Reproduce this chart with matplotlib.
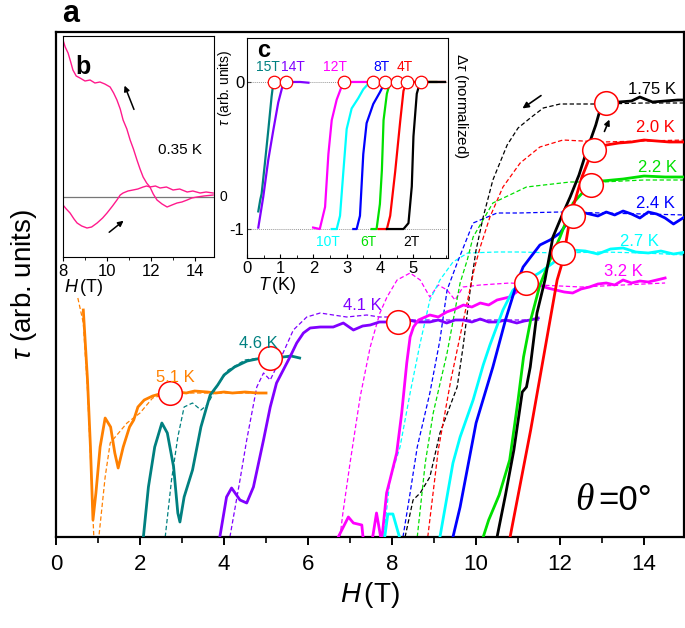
import matplotlib
matplotlib.use('Agg')
import matplotlib.pyplot as plt
from matplotlib.ticker import MultipleLocator

plt.rcParams['font.family'] = ['Liberation Sans', 'DejaVu Sans']
plt.rcParams['mathtext.fontset'] = 'custom'
plt.rcParams['mathtext.it'] = 'Liberation Sans:italic'
plt.rcParams['mathtext.rm'] = 'Liberation Sans'

# ---------------- main panel (a): torque vs field ----------------
temps = ['5.1 K', '4.6 K', '4.1 K', '3.2 K', '2.7 K', '2.4 K', '2.2 K', '1.75 K', '2.0 K']
colors = ['#ff8000', '#008080', '#8000ff', '#ff00ff', '#00ffff', '#0000ff', '#00e000', '#000000', '#ff0000']

H_up_51 = [0.65, 0.7, 0.75, 0.82, 0.88, 0.95, 1.05, 1.17, 1.3, 1.4, 1.48, 1.6, 1.75, 1.85, 1.95, 2.1, 2.3, 2.55, 2.7, 2.9, 3.1, 3.3, 3.6, 3.8, 4.0, 4.2, 4.5, 4.8, 5.0]
t_up_51 = [227, 192, 157, 90, 17, 44, 90, 119, 110, 84, 69, 90, 110, 117, 130, 137, 141, 144, 144, 145, 144, 146, 145, 144, 145, 144, 145, 144, 144]
H_dn_51 = [0.52, 0.65, 0.75, 0.82, 0.9, 0.95, 1.02, 1.17, 1.29, 1.45, 1.69, 2.0, 2.3, 2.7, 3.5, 5.0]
t_dn_51 = [239, 214, 147, 80, 0, -23, 0, 60, 94, 102, 114, 124, 139, 144, 144, 144]

H_up_46 = [2.05, 2.08, 2.2, 2.35, 2.52, 2.65, 2.8, 2.9, 2.95, 3.05, 3.25, 3.45, 3.6, 3.67, 3.85, 4.0, 4.25, 4.55, 4.9, 5.1, 5.4, 5.6, 5.8]
t_up_46 = [-10, 0, 50, 90, 114, 104, 70, 24, 15, 40, 67, 110, 132, 142, 152, 162, 170, 176, 179, 179, 180, 181, 179]
H_dn_46 = [2.6, 2.75, 2.9, 3.05, 3.25, 3.45, 3.6, 3.85, 4.1, 4.5, 5.0, 5.5, 5.8]
t_dn_46 = [0, 57, 100, 130, 134, 127, 132, 152, 167, 177, 180, 180, 180]

H_up_41 = [3.88, 3.9, 4.06, 4.18, 4.38, 4.54, 4.7, 4.94, 5.1, 5.25, 5.41, 5.57, 5.73, 5.89, 6.05, 6.29, 6.6, 6.84, 7.08, 7.3, 7.48, 7.7, 7.95, 8.14, 8.4, 8.6, 8.9, 9.1, 9.3, 9.5, 9.7, 9.9, 10.1, 10.3, 10.5, 10.7, 10.97, 11.15, 11.29, 11.48]
t_up_41 = [-8, 0, 40, 49, 37, 34, 50, 97, 130, 154, 167, 180, 194, 204, 209, 210, 210, 214, 207, 211, 212, 215, 215, 215, 217, 215, 215, 217, 214, 217, 217, 215, 218, 215, 215, 217, 214, 216, 217, 219]
H_dn_41 = [4.14, 4.38, 4.54, 4.78, 4.94, 5.1, 5.33, 5.65, 5.97, 6.29, 6.6, 6.92, 7.4, 7.7, 8.0, 8.5, 9.0, 10, 11, 11.5]
t_dn_41 = [0, 57, 97, 150, 164, 157, 177, 207, 220, 224, 222, 220, 222, 220, 220, 217, 217, 217, 217, 217]

H_up_32 = [6.72, 6.96, 7.08, 7.28, 7.32, 7.52, 7.63, 7.75, 7.87, 7.95, 8.11, 8.23, 8.35, 8.43, 8.51, 8.63, 8.9, 9.1, 9.3, 9.5, 9.7, 9.9, 10.1, 10.3, 10.5, 10.8, 11.0, 11.21, 11.5, 11.7, 11.9, 12.1, 12.3, 12.5, 12.7, 12.9, 13.1, 13.3, 13.5, 13.7, 13.9, 14.1, 14.3, 14.5]
t_up_32 = [0, 20, 14, 12, -5, -5, 24, -5, 44, 57, 84, 124, 174, 200, 210, 217, 222, 220, 225, 228, 232, 230, 234, 232, 237, 240, 246, 254, 252, 249, 247, 245, 244, 248, 250, 253, 254, 252, 257, 254, 256, 255, 257, 259]
H_dn_32 = [6.76, 6.83, 7.0, 7.24, 7.48, 7.71, 7.88, 8.12, 8.43, 8.67, 8.9, 9.1, 9.31, 9.5, 9.69, 10.1, 10.81, 11.5, 12.5, 13.5, 14.5]
t_dn_32 = [0, 24, 74, 140, 190, 224, 240, 257, 264, 257, 240, 252, 247, 237, 250, 252, 254, 252, 250, 252, 254]

H_up_27 = [7.8, 7.9, 8.02, 8.23, 8.5, 9.0, 9.14, 9.45, 9.62, 9.93, 10.17, 10.33, 10.64, 10.88, 11.21, 11.5, 11.83, 12.07, 12.3, 12.6, 12.9, 13.2, 13.5, 13.8, 14.1, 14.4, 14.7, 15]
t_up_27 = [-8, 23, 23, -8, -23, -23, 0, 74, 100, 137, 172, 192, 227, 247, 257, 264, 274, 284, 287, 286, 283, 288, 289, 285, 284, 286, 283, 285]
H_dn_27 = [7.8, 7.95, 8.19, 8.43, 8.67, 8.9, 9.14, 9.45, 9.8, 10.5, 11, 12, 13, 14, 15]
t_dn_27 = [0, 57, 90, 144, 194, 237, 257, 275, 284, 285, 285, 284, 285, 284, 282]

H_up_24 = [9.45, 9.62, 10.0, 10.4, 10.7, 10.98, 11.12, 11.3, 11.52, 11.76, 12.0, 12.17, 12.3, 12.5, 12.7, 12.9, 13.1, 13.3, 13.5, 13.7, 13.9, 14.1, 14.3, 14.5, 14.7, 14.85, 15]
t_up_24 = [0, 30, 114, 170, 217, 255, 270, 280, 292, 297, 304, 314, 321, 325, 323, 321, 325, 322, 326, 323, 319, 325, 323, 319, 313, 317, 321]
H_dn_24 = [8.26, 8.43, 8.6, 8.9, 9.14, 9.31, 9.55, 9.93, 10.5, 11, 12, 13, 14, 15]
t_dn_24 = [0, 44, 90, 144, 197, 247, 274, 314, 324, 324, 325, 324, 323, 322]

H_up_22 = [10.17, 10.3, 10.55, 10.8, 11.0, 11.13, 11.3, 11.52, 11.76, 12.0, 12.31, 12.55, 12.71, 13.0, 13.5, 14.0, 14.5, 15]
t_up_22 = [0, 17, 42, 77, 137, 180, 217, 252, 277, 300, 334, 345, 352, 356, 358, 361, 360, 360]
H_dn_22 = [8.6, 8.79, 8.98, 9.31, 9.62, 9.79, 9.93, 10.4, 11.2, 12.24, 13, 14, 15]
t_dn_22 = [0, 74, 124, 184, 254, 277, 300, 334, 350, 355, 355, 357, 357]

H_up_175 = [10.5, 10.7, 10.9, 11.1, 11.2, 11.29, 11.45, 11.64, 11.83, 12.05, 12.24, 12.45, 12.64, 12.85, 12.95, 13.1, 13.4, 13.7, 13.9, 14.2, 14.5, 14.8, 15]
t_up_175 = [0, 42, 87, 145, 150, 170, 224, 257, 300, 322, 340, 362, 387, 412, 427, 434, 435, 436, 440, 435, 436, 437, 437]
H_dn_175 = [8.31, 8.5, 8.67, 8.9, 9.14, 9.55, 9.69, 9.86, 10.0, 10.17, 10.4, 10.74, 11.0, 11.29, 11.6, 12.0, 13, 14, 15]
t_dn_175 = [0, 37, 44, 60, 104, 150, 190, 247, 287, 320, 357, 392, 409, 419, 429, 433, 433, 434, 434]

H_up_20 = [10.81, 11.3, 11.93, 12.07, 12.24, 12.52, 12.71, 12.8, 13.1, 13.4, 13.7, 14.0, 14.3, 14.6, 15]
t_up_20 = [0, 107, 257, 277, 320, 360, 380, 387, 392, 394, 395, 397, 396, 395, 395]
H_dn_20 = [8.85, 9.1, 9.4, 9.65, 9.8, 9.95, 10.1, 10.33, 10.64, 11.05, 11.52, 12.07, 13, 14, 15]
t_dn_20 = [0, 87, 157, 207, 237, 267, 290, 320, 350, 374, 390, 397, 395, 396, 397]

H_up = [H_up_51, H_up_46, H_up_41, H_up_32, H_up_27, H_up_24, H_up_22, H_up_175, H_up_20]
t_up = [t_up_51, t_up_46, t_up_41, t_up_32, t_up_27, t_up_24, t_up_22, t_up_175, t_up_20]
H_dn = [H_dn_51, H_dn_46, H_dn_41, H_dn_32, H_dn_27, H_dn_24, H_dn_22, H_dn_175, H_dn_20]
t_dn = [t_dn_51, t_dn_46, t_dn_41, t_dn_32, t_dn_27, t_dn_24, t_dn_22, t_dn_175, t_dn_20]

# transition points (open circles)
H_c = [2.71, 5.1, 8.14, 11.2, 12.07, 12.3, 12.73, 12.8, 13.1]
t_c = [144, 179, 215, 254, 284, 321, 352, 387, 434]

# label positions (H, tau)
lab_H = [2.83, 4.81, 7.29, 13.5, 13.9, 14.26, 14.31, 14.19, 14.26]
lab_t = [160, 194, 232, 265, 295, 334, 370, 447, 409]

# ---------------- inset b: 0.35 K ----------------
Hb_dn = [8.0, 8.1, 8.23, 8.35, 8.45, 8.6, 8.77, 9.0, 9.23, 9.45, 9.68, 9.9, 10.14, 10.3, 10.45, 10.6, 10.73, 10.9, 11.05, 11.2, 11.36, 11.5, 11.64, 11.8, 11.95, 12.2, 12.41, 12.7, 13.0, 13.3, 13.64, 13.9, 14.23, 14.5, 14.82]
tb_dn = [157, 150, 144, 135, 127, 121, 119, 116, 117, 114, 115, 113, 110, 104, 97, 88, 77, 68, 57, 48, 37, 28, 20, 14, 10, 11, 9, 10, 7, 8, 5, 6, 4, 5, 4]
Hb_up = [8.0, 8.15, 8.32, 8.5, 8.64, 8.85, 9.09, 9.3, 9.55, 9.8, 10.0, 10.25, 10.45, 10.6, 10.73, 10.95, 11.18, 11.4, 11.64, 11.8, 11.95, 12.1, 12.27, 12.5, 12.73, 12.95, 13.18, 13.4, 13.64, 13.85, 14.09, 14.4, 14.82]
tb_up = [-8, -12, -16, -22, -26, -29, -31, -30, -26, -21, -16, -9, -3, 2, 4, 6, 7, 8, 10, 11, 10, 3, -3, -7, -10, -8, -6, -5, -3, -1, 0, 1, 2]

# ---------------- inset c: T sweeps ----------------
c_fields = ['15T', '14T', '12T', '10T', '8T', '6T', '4T', '2T']
c_colors = ['#008080', '#8000ff', '#ff00ff', '#00ffff', '#0000ff', '#00e000', '#ff0000', '#000000']
Tc_15 = [0.34, 0.40, 0.44, 0.54, 0.64, 0.74, 0.79, 0.82, 1.0]
yc_15 = [-0.88, -0.80, -0.76, -0.55, -0.33, -0.10, -0.01, 0, 0]
Tc_14 = [0.34, 0.49, 0.64, 0.79, 0.94, 1.09, 1.17, 1.4, 1.6, 1.85]
yc_14 = [-0.99, -0.78, -0.53, -0.33, -0.14, -0.01, 0, 0.0, 0.0, -0.005]
Tc_12 = [1.99, 2.19, 2.35, 2.45, 2.55, 2.70, 2.85, 2.92, 3.2, 3.5, 3.7]
yc_12 = [-0.99, -1.0, -0.85, -0.49, -0.26, -0.12, -0.03, 0, 0, 0, 0]
Tc_10 = [2.55, 2.70, 2.80, 2.90, 3.0, 3.15, 3.35, 3.50, 3.70, 3.78]
yc_10 = [-1, -1, -0.91, -0.61, -0.32, -0.18, -0.11, -0.05, 0, 0]
Tc_8 = [3.20, 3.30, 3.40, 3.50, 3.60, 3.80, 4.0, 4.16]
yc_8 = [-1, -1, -0.91, -0.49, -0.28, -0.15, -0.07, 0]
Tc_6 = [3.75, 3.90, 4.0, 4.06, 4.11, 4.21, 4.31, 4.51, 5.0, 5.5, 5.7]
yc_6 = [-1, -1, -0.83, -0.6, -0.26, -0.08, 0, 0, 0, 0, 0]
Tc_4 = [3.96, 4.21, 4.31, 4.46, 4.61, 4.71, 4.79, 4.83, 5.3, 5.96]
yc_4 = [-1, -1, -0.91, -0.61, -0.27, -0.06, -0.01, 0, 0, 0]
Tc_2 = [4.21, 4.71, 4.86, 4.96, 5.01, 5.11, 5.21, 5.23, 5.6, 5.96]
yc_2 = [-1, -1, -0.96, -0.71, -0.37, -0.08, 0, 0, 0, 0]
Tc = [Tc_15, Tc_14, Tc_12, Tc_10, Tc_8, Tc_6, Tc_4, Tc_2]
yc = [yc_15, yc_14, yc_12, yc_10, yc_8, yc_6, yc_4, yc_2]
Tc_circ = [0.82, 1.17, 2.92, 3.78, 4.16, 4.51, 4.83, 5.23]
c_lab_T = [0.62, 1.38, 2.65, 2.45, 4.05, 3.65, 4.75, 4.95]
c_lab_y = [0.10, 0.10, 0.10, -1.09, 0.10, -1.09, 0.10, -1.09]
c_xticks = [0, 1, 2, 3, 4, 5]

# ================= drawing =================
W, Hpx = 685, 628
fig = plt.figure(figsize=(W / 100, Hpx / 100), dpi=100)

def box(l, r, t, b):
    return [l / W, 1 - b / Hpx, (r - l) / W, (b - t) / Hpx]

ax = fig.add_axes(box(56, 684, 32, 537))
for Hs, ts, c in zip(H_dn, t_dn, colors):
    ax.plot(Hs, ts, color=c, lw=0.9, dashes=(3.5, 2), zorder=2)
for Hs, ts, c in zip(H_up, t_up, colors):
    ax.plot(Hs, ts, color=c, lw=2.0, zorder=3, solid_joinstyle='round')
ax.plot(H_c, t_c, 'o', ms=17, mfc='white', mec='#ff0000', mew=1.1, zorder=5)
for lab, x, y, c in zip(temps, lab_H, lab_t, colors):
    ax.text(x, y, lab, color=c, fontsize=12, ha='center', va='center', zorder=6)
ax.annotate('', xy=(11.05, 427), xytext=(11.6, 443),
            arrowprops=dict(arrowstyle='-|>', color='black', lw=1.2, mutation_scale=9), zorder=6)
ax.annotate('', xy=(13.2, 420), xytext=(13.03, 403),
            arrowprops=dict(arrowstyle='-|>', color='black', lw=1.2, mutation_scale=8), zorder=6)
ax.text(12.8, 27, 'θ', fontsize=27, family='Liberation Serif', style='italic', ha='right', va='baseline')
ax.text(12.9, 27, '=0°', fontsize=25, ha='left', va='baseline')

ax.set_xlim(0, 14.95)
ax.set_ylim(0, 505)
ax.xaxis.set_major_locator(MultipleLocator(2))
ax.xaxis.set_minor_locator(MultipleLocator(1))
ax.set_yticks([])
ax.tick_params(axis='x', which='major', direction='out', length=6, width=1.4, labelsize=16, pad=6)
ax.tick_params(axis='x', which='minor', direction='out', length=4, width=1.2)
for s in ax.spines.values():
    s.set_linewidth(1.6)
ax.set_xlabel(r'$H\,$(T)', fontsize=20, labelpad=4)
ax.set_ylabel(r'$\tau$ (arb. units)', fontsize=20, labelpad=12)
fig.text(62 / W, 1 - 14 / Hpx, 'a', fontsize=22, fontweight='bold', ha='left', va='center')

# ---- inset b ----
axb = fig.add_axes(box(63, 214, 36, 257))
axb.axhline(0, color='#777777', lw=0.9)
axb.plot(Hb_dn, tb_dn, color='#ff1a8c', lw=1.0)
axb.plot(Hb_up, tb_up, color='#ff1a8c', lw=1.0)
axb.set_xlim(8, 14.86)
axb.set_ylim(-60, 161)
axb.set_yticks([])
axb.xaxis.set_major_locator(MultipleLocator(2))
axb.xaxis.set_minor_locator(MultipleLocator(1))
axb.tick_params(axis='x', which='major', direction='out', length=3, width=0.8, labelsize=12, pad=2)
axb.tick_params(axis='x', which='minor', direction='out', length=2, width=0.6)
for s in axb.spines.values():
    s.set_linewidth(0.8)
axb.text(0.13, 0.86, 'b', transform=axb.transAxes, fontsize=18, fontweight='bold', ha='center', va='center')
axb.text(13.3, 47, '0.35 K', fontsize=11, ha='center', va='center')
axb.annotate('', xy=(10.75, 114), xytext=(11.27, 85),
             arrowprops=dict(arrowstyle='-|>', color='black', lw=1.1, mutation_scale=8))
axb.annotate('', xy=(10.85, -22), xytext=(10.0, -37),
             arrowprops=dict(arrowstyle='-|>', color='black', lw=1.1, mutation_scale=8))
fig.text(220 / W, 1 - 197 / Hpx, '0', fontsize=10, ha='left', va='center')
fig.text(64 / W, 1 - 288 / Hpx, r'$H\,$(T)', fontsize=13, ha='left', va='center')

# ---- inset c ----
axc = fig.add_axes(box(247, 448, 38, 258))
axc.axhline(0, color='#999999', lw=0.7, ls=(0, (1, 1)))
axc.axhline(-1, color='#999999', lw=0.7, ls=(0, (1, 1)))
for Ts, ys, c in zip(Tc, yc, c_colors):
    axc.plot(Ts, ys, color=c, lw=1.6)
axc.plot(Tc_circ, [0] * len(Tc_circ), 'o', ms=9, mfc='white', mec='#ff0000', mew=0.9, zorder=5)
for lab, x, y, c in zip(c_fields, c_lab_T, c_lab_y, c_colors):
    axc.text(x, y, lab, color=c, fontsize=10, ha='center', va='center')
axc.set_xlim(0, 6.05)
axc.set_ylim(-1.197, 0.299)
axc.set_yticks([0, -1])
axc.set_yticklabels(['0', '-1'])
axc.set_xticks(c_xticks)
axc.xaxis.set_minor_locator(MultipleLocator(0.5))
axc.tick_params(axis='both', which='major', direction='in', length=3, width=0.8, labelsize=12, pad=2)
axc.tick_params(axis='x', which='minor', direction='in', length=2, width=0.6)
for s in axc.spines.values():
    s.set_linewidth(0.8)
axc.text(0.085, 0.945, 'c', transform=axc.transAxes, fontsize=17, fontweight='bold', ha='center', va='center')
fig.text(277 / W, 1 - 285 / Hpx, r'$T\,$(K)', fontsize=13, ha='center', va='center')
fig.text(225 / W, 1 - 88 / Hpx, r'$\tau$ (arb. units)', fontsize=10, rotation=90, ha='center', va='center')
fig.text(461 / W, 1 - 106 / Hpx, r'$\Delta\tau$ (normalized)', fontsize=11, rotation=270, ha='center', va='center')

fig.savefig('out.png', dpi=100)
